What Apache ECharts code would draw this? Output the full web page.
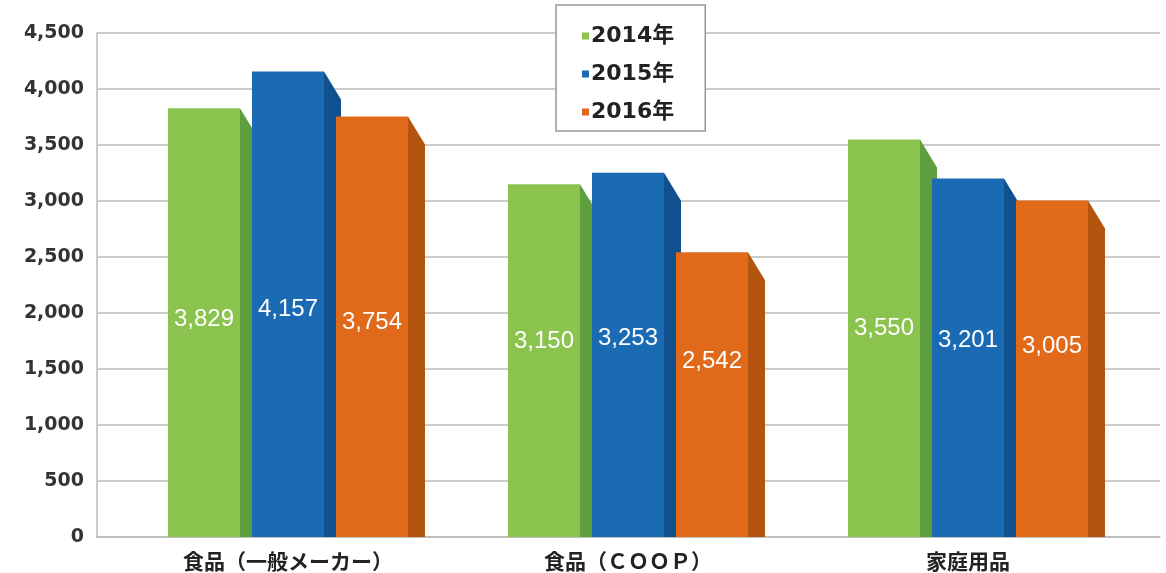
<!DOCTYPE html>
<html>
<head>
<meta charset="utf-8">
<script src="https://cdn.jsdelivr.net/npm/echarts@6/dist/echarts.min.js"></script>
<style>
  html, body { margin: 0; padding: 0; background: #fff; }
  #main { width: 1166px; height: 573px; }
</style>
</head>
<body>
<div id="main"></div>
<script>
// データ
var categories = ['食品（一般メーカー）', '食品（ＣＯＯＰ）', '家庭用品'];
var years = ['2014年', '2015年', '2016年'];
var v2014 = [3829, 3150, 3550];
var v2015 = [4157, 3253, 3201];
var v2016 = [3754, 2542, 3005];

var frontColors = ['#8bc34f', '#1a6ab4', '#e0691a'];
var sideColors = ['#5f9e3e', '#11508f', '#b3540f'];

var myChart = echarts.init(document.getElementById('main'));

// 立体風の棒を描く
function makeRender(k) {
  var offset = (k - 1) * 84;
  return function (params, api) {
    var base = api.coord([api.value(0), 0]);
    var top = api.coord([api.value(0), api.value(1)]);
    var cx = base[0] + offset;
    var w = 72, dx = 17, dy = 28;
    var x0 = cx - w / 2, x1 = cx + w / 2;
    var h = base[1] - top[1];
    return {
      type: 'group',
      children: [
        {
          type: 'polygon',
          shape: { points: [[x1, top[1]], [x1 + dx, top[1] + dy], [x1 + dx, base[1]], [x1, base[1]]] },
          style: { fill: sideColors[k] }
        },
        {
          type: 'rect',
          shape: { x: x0, y: top[1], width: w, height: h },
          style: { fill: frontColors[k] }
        },
        {
          type: 'text',
          style: {
            x: cx, y: base[1] - (93 + h * 0.29),
            text: echarts.format.addCommas(api.value(1)),
            fill: '#fff',
            font: '500 24px "Liberation Sans", Arial, sans-serif',
            align: 'center', verticalAlign: 'middle'
          }
        }
      ]
    };
  };
}

function seriesData(arr) {
  return arr.map(function (v, i) { return [i, v]; });
}

var allValues = [v2014, v2015, v2016];

myChart.setOption({
  animation: false,
  legend: {
    orient: 'vertical',
    left: 556, top: 5,
    data: years,
    icon: 'rect',
    itemWidth: 7, itemHeight: 7, itemGap: 16,
    padding: [20, 31, 8, 26],
    backgroundColor: '#fff',
    borderColor: '#999', borderWidth: 1.5,
    textStyle: { fontSize: 22, fontWeight: 'bold', color: '#222', fontFamily: '"DejaVu Sans", "Noto Sans CJK JP", sans-serif', padding: [0, 0, 0, -3] }
  },
  grid: [
    { left: 118, right: 28, top: 33, bottom: 36 },
    { left: 97, right: 6, top: 33, bottom: 36 }
  ],
  xAxis: [
    {
      type: 'category', gridIndex: 0, data: categories,
      axisLine: { show: false }, axisTick: { show: false },
      axisLabel: { margin: 14, fontSize: 21, fontWeight: 'bold', color: '#222', fontFamily: '"Noto Sans CJK JP", sans-serif' }
    },
    {
      type: 'category', gridIndex: 1, data: [''],
      axisLine: { lineStyle: { color: '#bbb', width: 1.5 } },
      axisTick: { show: false }, axisLabel: { show: false }
    }
  ],
  yAxis: [
    { type: 'value', gridIndex: 0, min: 0, max: 4500, interval: 500, show: false },
    {
      type: 'value', gridIndex: 1, min: 0, max: 4500, interval: 500,
      axisLine: { show: true, lineStyle: { color: '#bbb', width: 1.5 } },
      axisTick: { show: false },
      splitLine: { lineStyle: { color: '#bbb', width: 1.5 } },
      axisLabel: {
        margin: 13, fontSize: 19, fontWeight: 'bold', color: '#333',
        fontFamily: '"DejaVu Sans", sans-serif',
        formatter: function (v) { return echarts.format.addCommas(v); }
      }
    }
  ],
  series: years.map(function (name, k) {
    return {
      name: name,
      type: 'custom',
      xAxisIndex: 0, yAxisIndex: 0,
      itemStyle: { color: frontColors[k] },
      renderItem: makeRender(k),
      encode: { x: 0, y: 1 },
      data: seriesData(allValues[k]),
      z: 2 + k
    };
  })
});
</script>
</body>
</html>
